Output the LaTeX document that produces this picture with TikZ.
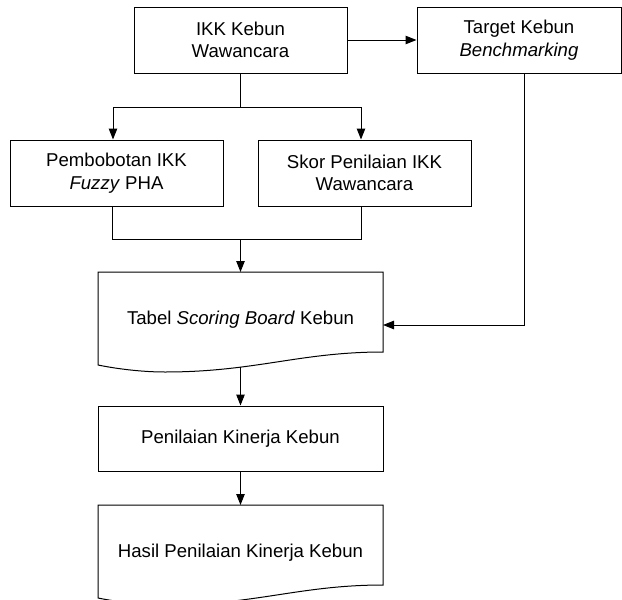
\documentclass[tikz,border=0pt]{standalone}
\usepackage{fontspec}
\setmainfont{Liberation Sans}
\usetikzlibrary{arrows.meta}
\begin{document}
\begin{tikzpicture}[x=1pt,y=-1pt,
  lbl/.style={align=center, inner sep=0pt, font=\fontsize{18.6}{22.5}\selectfont},
  box/.style={lbl, draw, line width=1pt, minimum width=213pt, minimum height=66pt},
  ln/.style={line width=1pt},
  arr/.style={ln, -{Triangle[length=11pt,width=8.5pt]}}]
\useasboundingbox (0,0) rectangle (622,600);
% process boxes
\node[box] (ikk) at (240.5,40) {IKK Kebun\\Wawancara};
\node[box, minimum width=204pt] (target) at (519,40) {Target Kebun\\\textit{Benchmarking}};
\node[box] (pemb) at (116.5,173) {Pembobotan IKK\\\textit{Fuzzy} PHA};
\node[box] (skor) at (364.5,173) {Skor Penilaian IKK\\Wawancara};
\node[box, minimum width=285pt, minimum height=65pt] (pen) at (240.5,438.5) {Penilaian Kinerja Kebun};
% document shapes
\draw[ln] (98,272) -- (383,272) -- (383,352)
  .. controls (300,352) and (255,372) .. (165,372)
  .. controls (145,372) and (120,369.5) .. (98,365) -- cycle;
\node[lbl] (tabel) at (240.5,320) {Tabel \textit{Scoring Board} Kebun};
\draw[ln] (98,505) -- (383,505) -- (383,585)
  .. controls (300,585) and (255,605) .. (165,605)
  .. controls (145,605) and (120,602.5) .. (98,598) -- cycle;
\node[lbl] (hasil) at (240.5,553) {Hasil Penilaian Kinerja Kebun};
% connector points
\coordinate (split) at (240.5,107);
\coordinate (merge) at (240.5,239);
\coordinate (tabeltop) at (240.5,272);
\coordinate (tabelin) at (383,325);
\coordinate (tabelbot) at (240.5,366.5);
\coordinate (hasiltop) at (240.5,505);
% connectors
\draw[arr] (ikk.east) -- (target.west);
\draw[ln] (ikk.south) -- (split);
\draw[arr] (split) -| ([xshift=-3.5pt]pemb.north);
\draw[arr] (split) -| ([xshift=-3.5pt]skor.north);
\draw[ln] ([xshift=-4pt]pemb.south) |- (merge);
\draw[ln] ([xshift=-3.5pt]skor.south) |- (merge);
\draw[arr] (merge) -- (tabeltop);
\draw[arr] ([xshift=5pt]target.south) |- (tabelin);
\draw[arr] (tabelbot) -- (pen.north);
\draw[arr] (pen.south) -- (hasiltop);
\end{tikzpicture}
\end{document}
